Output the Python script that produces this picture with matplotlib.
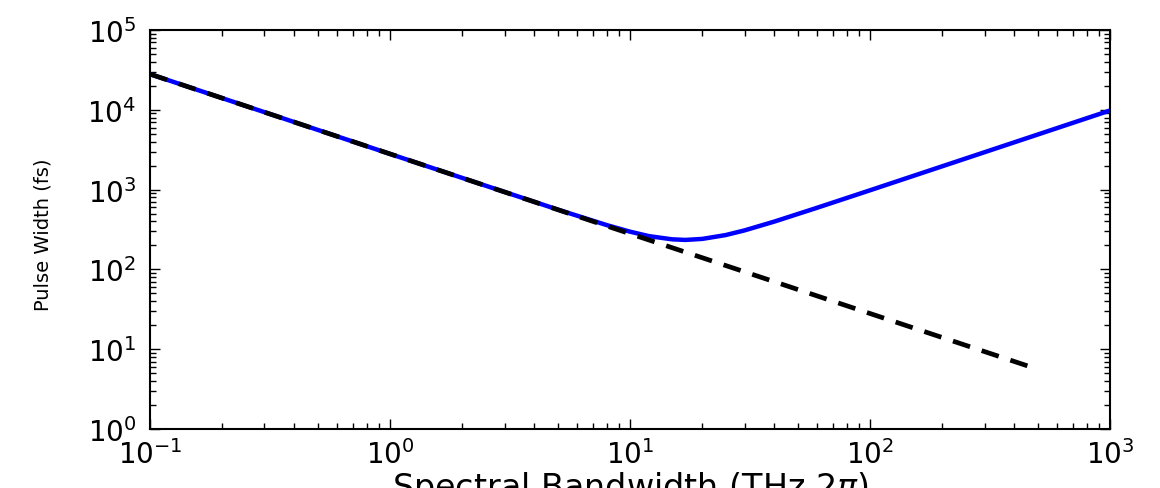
import numpy as np
import matplotlib
matplotlib.use("Agg")
import matplotlib.pyplot as plt
from matplotlib.ticker import LogLocator, NullFormatter

plt.rcParams['font.family'] = ['DejaVu Sans']
plt.rcParams['mathtext.fontset'] = 'dejavusans'

# spectral bandwidth (THz 2pi) and pulse width (fs)
bw_chirped = [0.1, 0.2, 0.5, 1, 2, 5, 8, 10, 12, 15, 17, 20, 25, 30, 40, 60, 100, 200, 500, 1000]
pw_chirped = [28000, 14000, 5600, 2800, 1400, 562, 359, 297, 261, 238, 234, 241, 269, 308,
              398, 590, 980, 1960, 4900, 9800]

# transform-limited pulse width
bw_limit = [0.1, 500]
pw_limit = [28000, 5.6]

fig = plt.figure(figsize=(11.6, 4.89), dpi=100)
ax = fig.add_axes([0.1293, 0.1207, 0.8276, 0.8159])

ax.plot(bw_chirped, pw_chirped, color='#0000ff', lw=3.2, solid_capstyle='butt')
ax.plot(bw_limit, pw_limit, color='black', lw=3.4, dashes=(3.8, 2.6))

ax.set_xscale('log')
ax.set_yscale('log')
ax.set_xlim(0.1, 1000)
ax.set_ylim(1, 1e5)

ax.xaxis.set_major_locator(LogLocator(base=10, numticks=10))
ax.yaxis.set_major_locator(LogLocator(base=10, numticks=10))
ax.xaxis.set_minor_locator(LogLocator(base=10, subs=np.arange(2, 10), numticks=20))
ax.yaxis.set_minor_locator(LogLocator(base=10, subs=np.arange(2, 10), numticks=20))
ax.xaxis.set_minor_formatter(NullFormatter())
ax.yaxis.set_minor_formatter(NullFormatter())

ax.tick_params(which='both', direction='in', top=True, right=True, width=1.0)
ax.tick_params(which='major', length=7, labelsize=20)
ax.tick_params(which='minor', length=4)
ax.tick_params(axis='x', which='major', pad=7)
ax.tick_params(axis='y', which='major', pad=10)
for s in ax.spines.values():
    s.set_linewidth(1.5)

ax.set_xlabel('Spectral Bandwidth (THz 2$\\pi$)', fontsize=24)
ax.xaxis.set_label_coords(0.5, -0.1)
ax.set_ylabel('Pulse Width (fs)', fontsize=14, family=['DejaVu Sans'])
ax.yaxis.set_label_coords(-0.102, 0.49)

fig.savefig('out.png', dpi=100)
